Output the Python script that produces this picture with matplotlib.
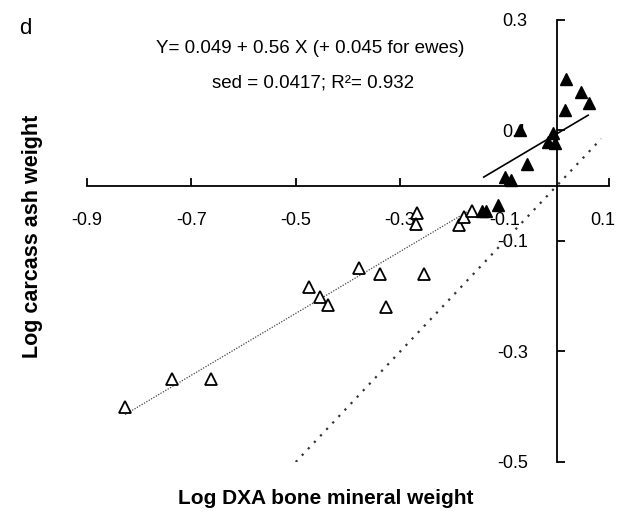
import numpy as np
import matplotlib.pyplot as plt
import matplotlib.transforms as mtransforms

plt.rcParams['font.family'] = ['Liberation Sans', 'DejaVu Sans']

# log DXA bone mineral weight (x) vs log carcass ash weight (y)
rams_x = [-0.827, -0.737, -0.663, -0.474, -0.453, -0.439, -0.379, -0.338, -0.328,
          -0.254, -0.267, -0.270, -0.188, -0.178, -0.163]
rams_y = [-0.400, -0.349, -0.349, -0.183, -0.201, -0.215, -0.149, -0.159, -0.219,
          -0.159, -0.050, -0.070, -0.071, -0.057, -0.045]

ewes_x = [0.018, 0.046, 0.062, 0.015, -0.070, -0.008, -0.017, -0.004, -0.058,
          -0.099, -0.087, -0.144, -0.135, -0.112]
ewes_y = [0.193, 0.169, 0.149, 0.137, 0.100, 0.095, 0.080, 0.077, 0.040,
          0.016, 0.010, -0.045, -0.045, -0.035]

# fitted model
intercept = 0.049
slope = 0.56
ewe_offset = 0.045

xticks = [-0.9, -0.7, -0.5, -0.3, -0.1, 0.1]
yticks = [-0.5, -0.3, -0.1, 0.1, 0.3]

fig = plt.figure(figsize=(6.21, 5.17), dpi=100)
ax = fig.add_axes([0.140, 0.1064, 0.8407, 0.855])

# regression lines over the range of each group
xr = np.array([min(rams_x), max(rams_x)])
ax.plot(xr, intercept + slope * xr, color='#444444', lw=0.9, ls=(0, (1, 1.2)))
xe = np.array([-0.14, 0.06])
ax.plot(xe, intercept + ewe_offset + slope * xe, color='black', lw=1.2)
# line of identity
xi = np.array([-0.5, 0.085])
ax.plot(xi, xi, color='#333333', lw=1.6, ls=(0, (1, 3)))

ax.plot(rams_x, rams_y, ls='none', marker='^', ms=9, mfc='white', mec='black', mew=1.3)
ax.plot(ewes_x, ewes_y, ls='none', marker='^', ms=9, mfc='black', mec='black')

ax.set_xlim(-0.9, 0.1)
ax.set_ylim(-0.5, 0.3)
for s in ['top', 'right']:
    ax.spines[s].set_visible(False)
ax.spines['left'].set_position(('data', 0))
ax.spines['bottom'].set_position(('data', 0))
ax.spines['left'].set_linewidth(1.3)
ax.spines['bottom'].set_linewidth(1.3)

ax.set_xticks(xticks)
ax.set_xticklabels(['-0.9', '-0.7', '-0.5', '-0.3', '-0.1', '0.1'])
ax.set_yticks(yticks)
ax.set_yticklabels(['-0.5', '-0.3', '-0.1', '0.1', '0.3'])
ax.tick_params(axis='x', direction='in', length=6, width=1.3, pad=19, labelsize=13)
ax.tick_params(axis='y', direction='in', length=6, width=1.3, pad=21, labelsize=13)

# pull the last x label back inside the figure edge
last = ax.get_xticklabels()[-1]
last.set_transform(last.get_transform() +
                   mtransforms.ScaledTranslation(-6 / 100, 0, fig.dpi_scale_trans))

fig.text(0.525, 0.035, 'Log DXA bone mineral weight', ha='center', va='center',
         fontsize=15, fontweight='bold')
fig.text(0.052, 0.542, 'Log carcass ash weight', ha='center', va='center',
         rotation=90, fontsize=15.5, fontweight='bold')

fig.text(0.03, 0.945, 'd', fontsize=16, va='center')
fig.text(0.499, 0.907, 'Y= 0.049 + 0.56 X (+ 0.045 for ewes)', ha='center',
         va='center', fontsize=13.5)
fig.text(0.504, 0.84, 'sed = 0.0417; R²= 0.932', ha='center', va='center', fontsize=13.5)

fig.savefig('out.png', dpi=100)
